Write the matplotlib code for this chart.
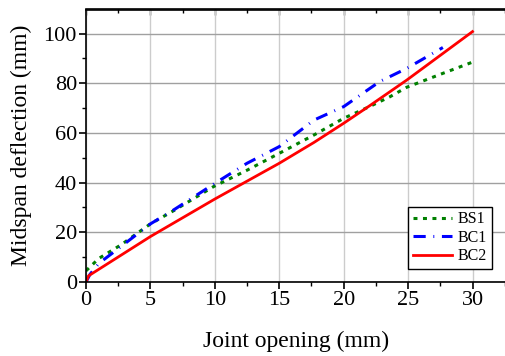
import matplotlib
matplotlib.use("Agg")
import matplotlib.pyplot as plt
from matplotlib.ticker import MultipleLocator

plt.rcParams['font.family'] = ['Liberation Serif', 'DejaVu Serif']
plt.rcParams['mathtext.fontset'] = 'stix'

bs1_x = [0, 1.0, 2.7, 5.0, 6.8, 9.9, 12.5, 15.0, 17.7, 20.0, 22.0, 23.6, 24.9, 27.7, 30.3]
bs1_y = [4.5, 9.5, 14.9, 23.4, 28.7, 38.4, 45.0, 51.8, 59.2, 65.9, 70.6, 74.6, 78.4, 84.0, 89.1]

bc1_x = [0, 0.3, 1.0, 2.7, 5.0, 6.8, 10.0, 12.5, 15.0, 17.7, 20.0, 22.8, 24.9, 27.7]
bc1_y = [0, 3.0, 7.5, 14.2, 23.4, 29.0, 39.7, 47.8, 54.5, 65.2, 70.6, 80.7, 86.0, 94.4]

bc2_x = [0, 0.2, 5.0, 10.0, 15.0, 17.7, 20.0, 22.0, 24.9, 30.0]
bc2_y = [0, 2.5, 18.3, 33.4, 47.8, 56.2, 63.9, 70.9, 81.3, 100.8]

fig = plt.figure(figsize=(5.06, 3.56), dpi=100)
ax = fig.add_axes([86/506, 74/356, (506-86)/506, (282-9.5)/356])

ax.plot(bs1_x, bs1_y, color='#008000', lw=2.2, linestyle=(0, (1.3, 1.8)), label='BS1')
ax.plot(bc1_x, bc1_y, color='#0000FF', lw=2.2, linestyle=(0, (4, 2.5, 0.3, 2.5)), label='BC1')
ax.plot(bc2_x, bc2_y, color='#FF0000', lw=2.0, linestyle='-', label='BC2')

ax.set_xlim(0, 32.6)
ax.set_ylim(0, 109.7)
ax.xaxis.set_major_locator(MultipleLocator(5))
ax.xaxis.set_minor_locator(MultipleLocator(2.5))
ax.yaxis.set_major_locator(MultipleLocator(20))
ax.yaxis.set_minor_locator(MultipleLocator(10))

ax.grid(True, axis='x', which='major', color='#cccccc', lw=1.0)
ax.grid(True, axis='y', which='major', color='#a0a0a0', lw=1.0)
ax.set_axisbelow(True)

ax.spines['right'].set_visible(False)
for s in ['left', 'bottom', 'top']:
    ax.spines[s].set_linewidth(1.2)

ax.tick_params(axis='both', which='major', direction='out', length=5, width=1.2, labelsize=16, pad=1.5)
ax.tick_params(axis='both', which='minor', direction='out', length=3, width=1.0)
ax2 = ax.secondary_xaxis('top')
ax2.xaxis.set_major_locator(MultipleLocator(5))
ax2.xaxis.set_minor_locator(MultipleLocator(2.5))
ax2.tick_params(axis='x', which='major', direction='in', length=4, width=1.0, labeltop=False)
ax2.tick_params(axis='x', which='minor', direction='in', length=3, width=1.0)
ax2.spines['top'].set_linewidth(1.2)
ax.tick_params(axis='x', which='both', top=False)

ax.set_xlabel('Joint opening (mm)', fontsize=17, labelpad=15)
ax.set_ylabel('Midspan deflection (mm)', fontsize=17, labelpad=8)

leg = ax.legend(loc='lower right', fontsize=11.5,
                frameon=True, fancybox=False, edgecolor='black', framealpha=1,
                handlelength=2.4, handletextpad=0.4, borderpad=0.3, labelspacing=0.15,
                borderaxespad=0)
leg.get_frame().set_linewidth(1.0)
leg.set_bbox_to_anchor((492/506, (356-269)/356), transform=fig.transFigure)

fig.savefig('out.png', dpi=100)
